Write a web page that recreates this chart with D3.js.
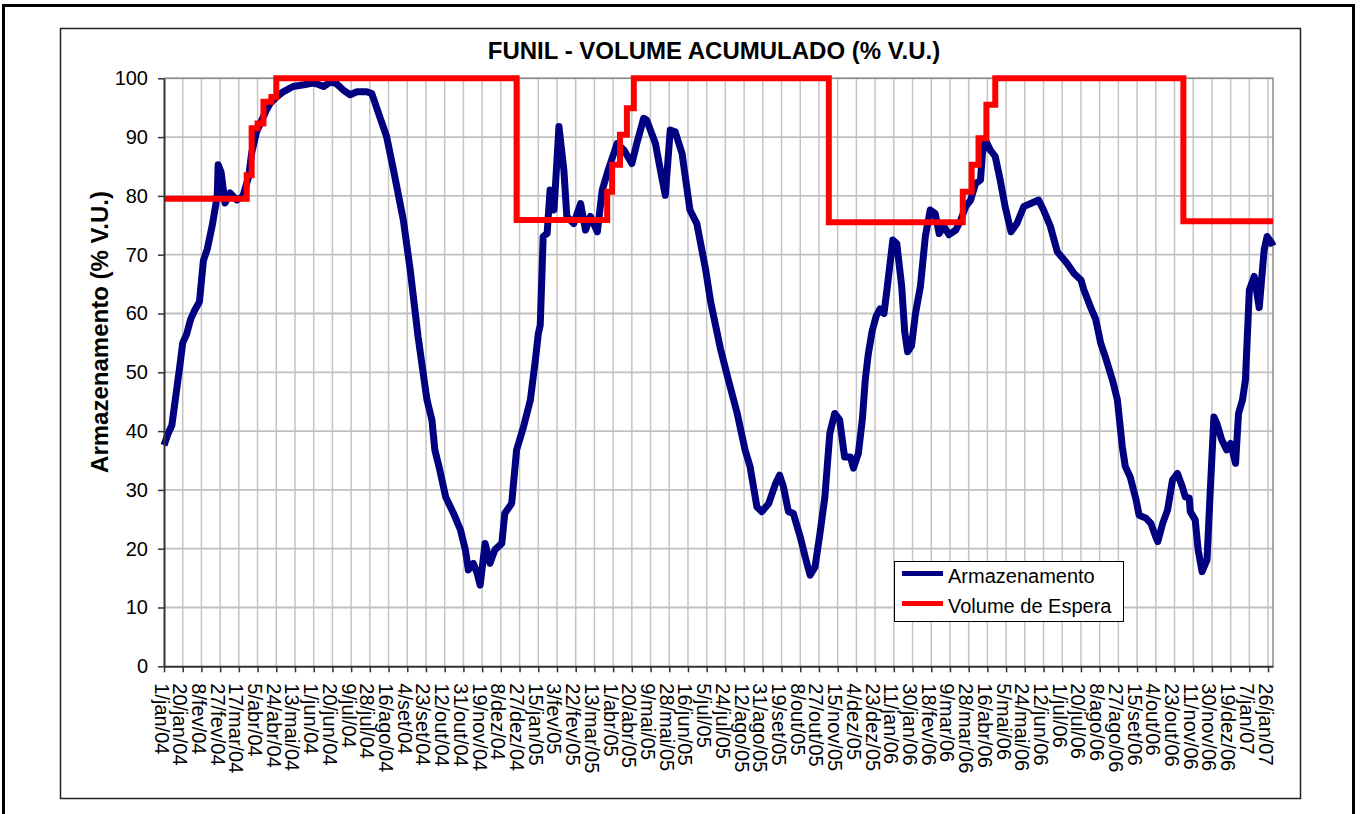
<!DOCTYPE html>
<html>
<head>
<meta charset="utf-8">
<script src="https://cdn.jsdelivr.net/npm/d3@7"></script>
<style>
    body { margin: 0; background: #fff; }
    svg { display: block; }
</style>
</head>
<body>
<script>
const panel_width = 1360;
const panel_height = 814;

// rótulos do eixo X (a cada 19 dias)
const rotulosX = ["1/jan/04", "20/jan/04", "8/fev/04", "27/fev/04", "17/mar/04", "5/abr/04",
    "24/abr/04", "13/mai/04", "1/jun/04", "20/jun/04", "9/jul/04", "28/jul/04", "16/ago/04",
    "4/set/04", "23/set/04", "12/out/04", "31/out/04", "19/nov/04", "8/dez/04", "27/dez/04",
    "15/jan/05", "3/fev/05", "22/fev/05", "13/mar/05", "1/abr/05", "20/abr/05", "9/mai/05",
    "28/mai/05", "16/jun/05", "5/jul/05", "24/jul/05", "12/ago/05", "31/ago/05", "19/set/05",
    "8/out/05", "27/out/05", "15/nov/05", "4/dez/05", "23/dez/05", "11/jan/06", "30/jan/06",
    "18/fev/06", "9/mar/06", "28/mar/06", "16/abr/06", "5/mai/06", "24/mai/06", "12/jun/06",
    "1/jul/06", "20/jul/06", "8/ago/06", "27/ago/06", "15/set/06", "4/out/06", "23/out/06",
    "11/nov/06", "30/nov/06", "19/dez/06", "7/jan/07", "26/jan/07"];

const meses = ["jan", "fev", "mar", "abr", "mai", "jun", "jul", "ago", "set", "out", "nov", "dez"];

const ticksY = [0, 10, 20, 30, 40, 50, 60, 70, 80, 90, 100];

// Armazenamento: dia contado a partir de 1/jan/04, valor em % V.U.
const armDia = [0, 4, 8, 12, 16, 19, 23, 27, 31, 36, 40, 44, 49, 54, 55, 58, 62, 67, 74, 80,
    86, 89, 94, 98, 104, 108, 115, 121, 131, 142, 151, 156, 162, 169, 175, 182, 189, 196, 206, 211,
    219, 226, 233, 243, 250, 258, 267, 272, 275, 280, 286, 294, 301, 306, 309, 314, 318, 321, 326, 331,
    336, 343, 346, 353, 358, 365, 372, 377, 380, 382, 384, 385, 389, 392, 396, 401, 406, 409, 416, 423,
    428, 433, 440, 445, 451, 460, 467, 475, 480, 487, 490, 499, 504, 509, 514, 519, 526, 534, 541, 550,
    555, 560, 565, 573, 582, 590, 595, 602, 607, 614, 621, 625, 629, 634, 639, 646, 651, 656, 661, 666,
    671, 676, 681, 686, 691, 697, 700, 705, 709, 712, 715, 719, 723, 727, 731, 734, 740, 744, 749, 752,
    755, 759, 763, 768, 773, 778, 783, 787, 792, 797, 804, 809, 814, 819, 824, 829, 831, 834, 839, 844,
    849, 854, 860, 866, 873, 880, 888, 893, 900, 907, 917, 924, 931, 934, 941, 946, 951, 956, 963, 968,
    973, 976, 981, 987, 990, 997, 1002, 1007, 1009, 1014, 1019, 1024, 1029, 1034, 1037, 1041, 1042, 1047, 1050, 1054,
    1059, 1062, 1066, 1069, 1074, 1079, 1083, 1088, 1091, 1095, 1098, 1102, 1107, 1112, 1117, 1120, 1125, 1126];

const armValor = [37.6, 39.5, 41, 46, 51, 55, 56.5, 59, 60.5, 62, 69, 71, 75, 79.9, 85.3, 84, 78.8, 80.5, 79.3, 79.9,
    83.3, 87.3, 90.9, 92.4, 94.6, 95.8, 96.9, 97.7, 98.6, 98.9, 99.2, 99, 98.6, 99.4, 99.1, 98, 97.2, 97.7, 97.7, 97.4,
    93.5, 90.1, 84.4, 75.9, 67.4, 56, 45.3, 41.9, 36.8, 33.4, 28.8, 26, 23.2, 19.8, 16.4, 17.5, 15.8, 13.8, 20.9, 17.5,
    19.8, 20.9, 26, 27.7, 36.8, 40.7, 45.3, 52, 56.5, 58, 68, 73.1, 73.6, 81, 77.6, 91.8, 84.4, 76.5, 75.3, 78.7,
    74.2, 76.5, 73.9, 81, 84.4, 88.9, 87.8, 85.5, 88.9, 93.2, 92.9, 88.9, 84.4, 80.1, 91.2, 90.9, 87.2, 77.6, 75.3, 67.4,
    62, 58, 54, 48.7, 43, 36.8, 34, 27.1, 26.3, 27.7, 31.1, 32.5, 30.5, 26.3, 26, 22, 18.6, 15.5, 16.9, 22.6,
    28.8, 39.6, 43, 41.9, 35.6, 35.6, 33.7, 36.2, 41.9, 48.7, 53, 57, 59.5, 60.8, 60, 64, 72.5, 71.9, 64.6, 57,
    53.5, 54.5, 60, 64.6, 73.1, 77.6, 77, 73.6, 74.8, 73.4, 74.2, 75.9, 78.2, 79.3, 82.1, 82.7, 87.2, 89.5, 87.8, 86.7,
    82.7, 78.2, 73.9, 75.3, 78.2, 78.7, 79.3, 77.6, 74.8, 70.5, 68.5, 66.8, 65.7, 64, 61, 59, 55, 52.5, 48.7, 45.3,
    37.3, 34, 32.2, 28.3, 25.7, 25.2, 24.3, 22, 21.2, 24.3, 26.6, 31.7, 32.8, 30.5, 28.8, 28.6, 26.3, 24.9, 19.8, 16.1,
    18.1, 28.8, 42.4, 41.3, 38.5, 36.8, 37.9, 34.5, 43, 45.3, 48.7, 64, 66.3, 61, 70.8, 73.1, 71.9, 71.5];

// Volume de Espera (degraus)
const esperaDia = [0, 84, 89, 95, 101, 109, 114, 358, 450, 455, 463, 470, 477, 675, 811, 820, 827, 835, 844, 1035, 1126];
const esperaValor = [79.5, 83.5, 91.5, 92.3, 96, 96.8, 100, 75.9, 80.7, 85.3, 90.4, 94.9, 100, 75.5, 80.7, 85.3, 89.8, 95.5, 100, 75.7, 75.7];

const fonte = "Arial, 'Liberation Sans', sans-serif";
const inicio = new Date(Date.UTC(2004, 0, 1));
const diaParaData = d => d3.utcDay.offset(inicio, d);

function parseRotulo(r) {
    const p = r.split("/");
    return new Date(Date.UTC(2000 + +p[2], meses.indexOf(p[1]), +p[0]));
}

const svg = d3.select("body")
    .append("svg")
    .attr("width", panel_width)
    .attr("height", panel_height);

svg.append("rect")
    .attr("width", panel_width)
    .attr("height", panel_height)
    .attr("fill", "#fff");

// moldura externa
svg.append("rect")
    .attr("x", 3.5)
    .attr("y", 5.5)
    .attr("width", 1350)
    .attr("height", 840)
    .attr("fill", "none")
    .attr("stroke", "#000")
    .attr("stroke-width", 3);

// moldura do gráfico
svg.append("rect")
    .attr("x", 60.5)
    .attr("y", 28.5)
    .attr("width", 1240)
    .attr("height", 770)
    .attr("fill", "#fff")
    .attr("stroke", "#222")
    .attr("stroke-width", 1.5);

const x = d3.scaleUtc()
    .domain([inicio, new Date(Date.UTC(2007, 0, 31))])
    .range([164, 1273]);

const y = d3.scaleLinear()
    .domain([0, 100])
    .range([666.3, 78.3]);

const ticksX = rotulosX.map(parseRotulo);

// grade
svg.append("g")
    .selectAll("line")
    .data(ticksX.slice(1))
    .join("line")
    .attr("x1", d => x(d))
    .attr("x2", d => x(d))
    .attr("y1", y(100))
    .attr("y2", y(0))
    .attr("stroke", "#c4c4c4")
    .attr("stroke-width", 1.5);

svg.append("g")
    .selectAll("line")
    .data(ticksY.slice(1))
    .join("line")
    .attr("x1", x.range()[0])
    .attr("x2", x.range()[1])
    .attr("y1", d => y(d))
    .attr("y2", d => y(d))
    .attr("stroke", "#c0c0c0")
    .attr("stroke-width", 1.8);

// borda direita / superior da área de plotagem
svg.append("path")
    .attr("d", `M${x.range()[0]},${y(100)}H${x.range()[1]}V${y(0)}`)
    .attr("fill", "none")
    .attr("stroke", "#8c8c8c")
    .attr("stroke-width", 1.5);

const armazenamento = armDia.map((d, i) => ({ data: diaParaData(d), valor: armValor[i] }));
const espera = esperaDia.map((d, i) => ({ data: diaParaData(d), valor: esperaValor[i] }));

svg.append("path")
    .datum(armazenamento)
    .attr("fill", "none")
    .attr("stroke", "#000080")
    .attr("stroke-width", 7)
    .attr("stroke-linejoin", "round")
    .attr("d", d3.line().x(d => x(d.data)).y(d => y(d.valor)));

svg.append("path")
    .datum(espera)
    .attr("fill", "none")
    .attr("stroke", "#ff0000")
    .attr("stroke-width", 6)
    .attr("d", d3.line().curve(d3.curveStepAfter).x(d => x(d.data)).y(d => y(d.valor)));

// eixos
const eixoY = svg.append("g")
    .attr("transform", `translate(${x.range()[0]},0)`)
    .call(d3.axisLeft(y).tickValues(ticksY).tickSize(6).tickPadding(10).tickSizeOuter(0));

eixoY.select(".domain").attr("stroke", "#333").attr("stroke-width", 2);
eixoY.selectAll(".tick line").attr("stroke", "#333").attr("stroke-width", 1.5);
eixoY.selectAll("text")
    .attr("font-family", fonte)
    .attr("font-size", "20px")
    .attr("fill", "#000");

const eixoX = svg.append("g")
    .attr("transform", `translate(0,${y(0)})`)
    .call(d3.axisBottom(x).tickValues(ticksX).tickSize(6).tickSizeOuter(0)
        .tickFormat((d, i) => rotulosX[i]));

eixoX.select(".domain").attr("stroke", "#333").attr("stroke-width", 2);
eixoX.selectAll(".tick line").attr("stroke", "#333").attr("stroke-width", 1.5);
eixoX.selectAll("text")
    .attr("transform", "rotate(90)")
    .attr("x", 17)
    .attr("y", 10)
    .attr("dy", 0)
    .attr("text-anchor", "start")
    .attr("font-family", fonte)
    .attr("font-size", "20px")
    .attr("fill", "#000");

// títulos
svg.append("text")
    .attr("x", 714)
    .attr("y", 59)
    .attr("text-anchor", "middle")
    .attr("font-family", fonte)
    .attr("font-weight", "bold")
    .attr("font-size", "24px")
    .text("FUNIL - VOLUME ACUMULADO (% V.U.)");

svg.append("text")
    .attr("transform", "translate(108,332) rotate(-90)")
    .attr("text-anchor", "middle")
    .attr("font-family", fonte)
    .attr("font-weight", "bold")
    .attr("font-size", "24px")
    .text("Armazenamento (% V.U.)");

// legenda
const legenda = svg.append("g")
    .attr("transform", "translate(894,561)");

legenda.append("rect")
    .attr("x", 0.5)
    .attr("y", 0.5)
    .attr("width", 229)
    .attr("height", 60)
    .attr("fill", "#fff")
    .attr("stroke", "#000")
    .attr("stroke-width", 1);

[["Armazenamento", "#000080"], ["Volume de Espera", "#ff0000"]].forEach((item, i) => {
    legenda.append("line")
        .attr("x1", 8)
        .attr("x2", 49)
        .attr("y1", 12.5 + i * 30)
        .attr("y2", 12.5 + i * 30)
        .attr("stroke", item[1])
        .attr("stroke-width", 5);

    legenda.append("text")
        .attr("x", 54)
        .attr("y", 22 + i * 30)
        .attr("font-family", fonte)
        .attr("font-size", "20px")
        .text(item[0]);
});
</script>
</body>
</html>
